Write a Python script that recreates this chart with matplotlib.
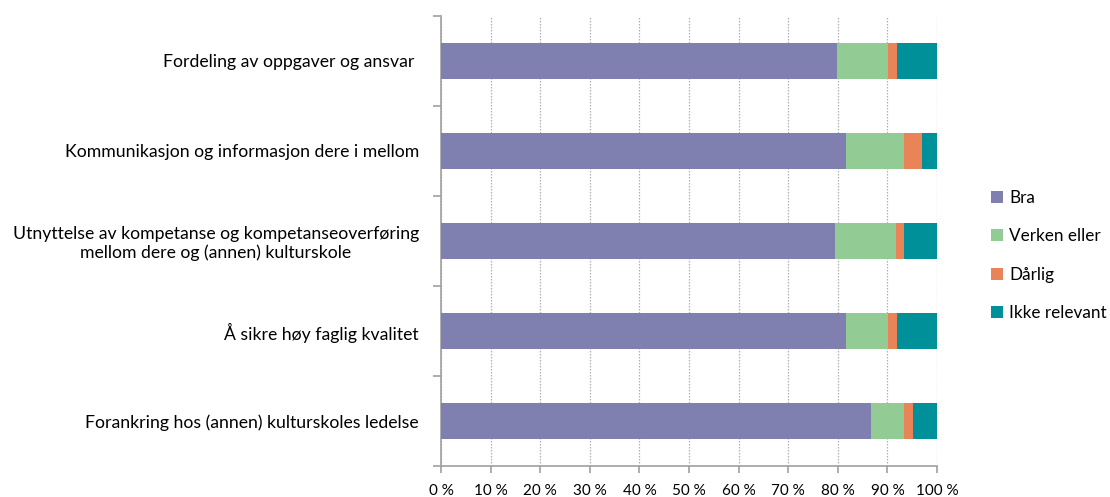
import numpy as np
from matplotlib import pyplot as plt
from matplotlib.ticker import MultipleLocator, FuncFormatter

categories = [
    'Fordeling av oppgaver og ansvar ',
    'Kommunikasjon og informasjon dere i mellom',
    'Utnyttelse av kompetanse og kompetanseoverføring\nmellom dere og (annen) kulturskole',
    'Å sikre høy faglig kvalitet',
    'Forankring hos (annen) kulturskoles ledelse',
]
bra = [79.9, 81.7, 79.4, 81.7, 86.6]
verken = [10.3, 11.7, 12.3, 8.5, 6.8]
darlig = [1.8, 3.6, 1.7, 1.8, 1.8]
ikke = [8.0, 3.0, 6.6, 8.0, 4.8]

series_names = ['Bra', 'Verken eller', 'Dårlig', 'Ikke relevant']
colors = ['#7f7fb0', '#93cb94', '#e98358', '#00909a']

plt.rcParams['font.family'] = ['Lato', 'DejaVu Sans']

fig = plt.figure(figsize=(11.1, 4.97), dpi=100)
ax = fig.add_axes([441 / 1110, 1 - 466 / 497, 496 / 1110, 450 / 497])

y = np.arange(len(categories))
left = np.zeros(len(categories))
for vals, name, col in zip([bra, verken, darlig, ikke], series_names, colors):
    ax.barh(y, vals, left=left, height=0.4, color=col, label=name, linewidth=0, zorder=3)
    left += np.array(vals)

ax.set_xlim(0, 100)
ax.set_ylim(len(categories) - 0.5, -0.5)
ax.xaxis.set_major_locator(MultipleLocator(10))
ax.xaxis.set_major_formatter(FuncFormatter(lambda v, p: '%d %%' % v))
ax.grid(axis='x', color='#b0b0b0', linestyle=(0, (1.2, 1.2)), linewidth=0.9, zorder=0)

ax.set_yticks(y)
ax.set_yticklabels(categories, multialignment='center', linespacing=1.15)
ax.set_yticks(np.arange(len(categories) + 1) - 0.5, minor=True)
ax.tick_params(axis='y', which='major', length=0, pad=16, labelsize=12.7)
ax.tick_params(axis='y', which='minor', length=6, color='#a0a0a0', width=1.2)
ax.tick_params(axis='x', length=5, color='#a0a0a0', width=1.2, pad=8, labelsize=11)

for s in ['top', 'right']:
    ax.spines[s].set_visible(False)
for s in ['left', 'bottom']:
    ax.spines[s].set_color('#a0a0a0')
    ax.spines[s].set_linewidth(1.2)

fig.legend(loc='center left', bbox_to_anchor=(991 / 1110, 0.486), frameon=False,
           handlelength=0.7, handleheight=0.7, handletextpad=0.35,
           labelspacing=1.3, fontsize=12.3, borderaxespad=0, borderpad=0)

fig.savefig('out.png', dpi=100)
